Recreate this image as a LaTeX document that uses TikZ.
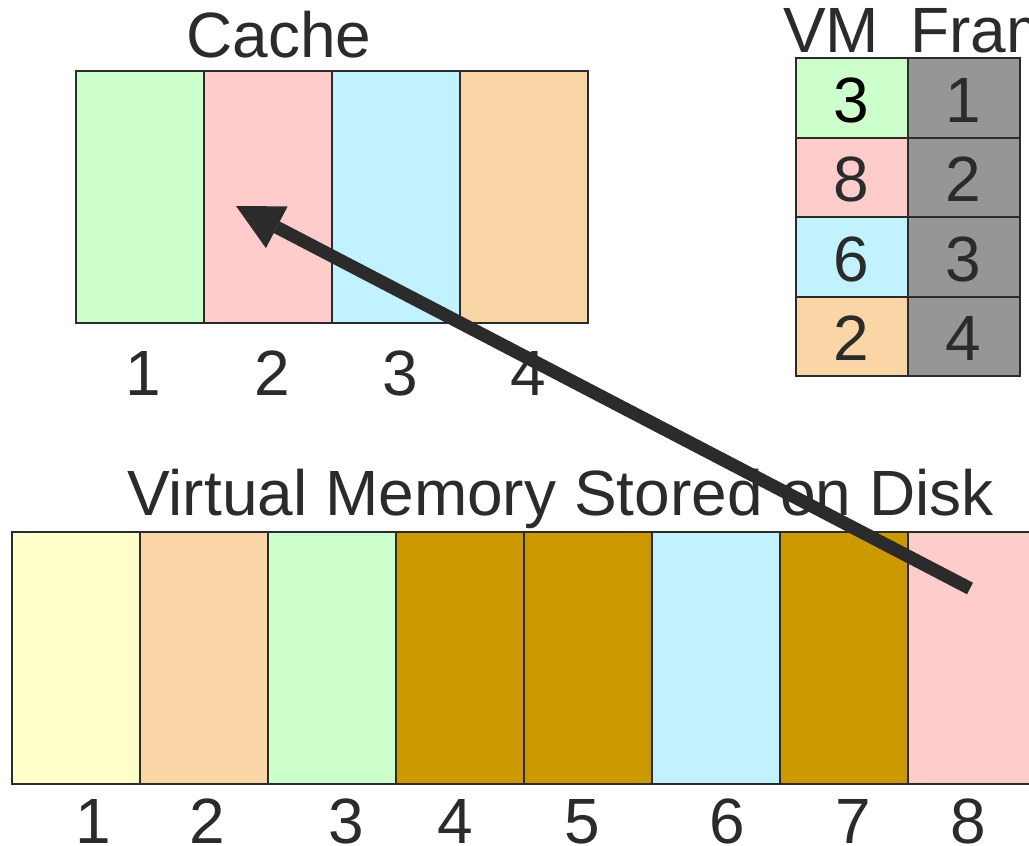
\documentclass[tikz,border=0pt]{standalone}
\usepackage{fontspec}
\setmainfont{Liberation Sans}
\usetikzlibrary{arrows.meta}
\definecolor{ink}{HTML}{2B2B2B}
\definecolor{cgreen}{HTML}{CCFFCC}
\definecolor{cpink}{HTML}{FFCCCC}
\definecolor{ccyan}{HTML}{C2F2FF}
\definecolor{corange}{HTML}{FAD5A5}
\definecolor{cyellow}{HTML}{FFFFCC}
\definecolor{cbrown}{HTML}{CC9900}
\definecolor{cgray}{HTML}{969696}
\tikzset{
  cell/.style={draw=ink, line width=2pt, inner sep=0pt, anchor=north west,
    minimum width=128pt, minimum height=252pt},
  tcell/.style={draw=ink, line width=2pt, inner sep=0pt, anchor=north west,
    minimum width=112pt, minimum height=79.5pt},
  lbl/.style={text=ink, inner sep=0pt, anchor=base, font=\fontsize{64}{70}\selectfont},
  bigarrow/.style={draw=ink, line width=13pt,
    -{Triangle[length=46pt,width=47pt,line width=0pt]}},
}
\begin{document}
\begin{tikzpicture}[x=1pt,y=-1pt]
\useasboundingbox (0,0) rectangle (1029,846);
\clip (0,0) rectangle (1029,846);
% Cache
\node[lbl] (cachetitle) at (279,57) {Cache};
\node[cell, fill=cgreen]  (c1) at (75,70)  {};
\node[cell, fill=cpink]   (c2) at (203,70) {};
\node[cell, fill=ccyan]   (c3) at (331,70) {};
\node[cell, fill=corange] (c4) at (459,70) {};
\node[lbl] (cl1) at (143,395) {1};
\node[lbl] (cl2) at (272,395) {2};
\node[lbl] (cl3) at (400,395) {3};
\node[lbl] (cl4) at (528,395) {4};
% Table
\node[lbl] (vmh) at (831,52) {VM};
\node[lbl, anchor=base west] (frh) at (910,52) {Frame};
\node[tcell, fill=cgreen]  (t1) at (795,57)    {};
\node[tcell, fill=cpink]   (t2) at (795,136.5) {};
\node[tcell, fill=ccyan]   (t3) at (795,216)   {};
\node[tcell, fill=corange] (t4) at (795,295.5) {};
\node[tcell, fill=cgray]   (f1) at (907,57)    {};
\node[tcell, fill=cgray]   (f2) at (907,136.5) {};
\node[tcell, fill=cgray]   (f3) at (907,216)   {};
\node[tcell, fill=cgray]   (f4) at (907,295.5) {};
\node[lbl, text=black] (tv1) at (851,122) {3};
\node[lbl] (tv2) at (851,201.5) {8};
\node[lbl] (tv3) at (851,281) {6};
\node[lbl] (tv4) at (851,360.5) {2};
\node[lbl] (tf1) at (963,122) {1};
\node[lbl] (tf2) at (963,201.5) {2};
\node[lbl] (tf3) at (963,281) {3};
\node[lbl] (tf4) at (963,360.5) {4};
% Virtual memory
\node[lbl, anchor=base west] (vmtitle) at (127,515) {Virtual Memory Stored on Disk};
\node[cell, fill=cyellow] (v1) at (11,531)  {};
\node[cell, fill=corange] (v2) at (139,531) {};
\node[cell, fill=cgreen]  (v3) at (267,531) {};
\node[cell, fill=cbrown]  (v4) at (395,531) {};
\node[cell, fill=cbrown]  (v5) at (523,531) {};
\node[cell, fill=ccyan]   (v6) at (651,531) {};
\node[cell, fill=cbrown]  (v7) at (779,531) {};
\node[cell, fill=cpink]   (v8) at (907,531) {};
\node[lbl] (vl1) at (93,843)  {1};
\node[lbl] (vl2) at (207,843) {2};
\node[lbl] (vl3) at (346,843) {3};
\node[lbl] (vl4) at (455,843) {4};
\node[lbl] (vl5) at (582,843) {5};
\node[lbl] (vl6) at (727,843) {6};
\node[lbl] (vl7) at (853,843) {7};
\node[lbl] (vl8) at (968,843) {8};
% Arrow
\coordinate (src) at (970,588.5);
\coordinate (dst) at (236,206);
\draw[bigarrow] (src) -- (dst);
\end{tikzpicture}
\end{document}
